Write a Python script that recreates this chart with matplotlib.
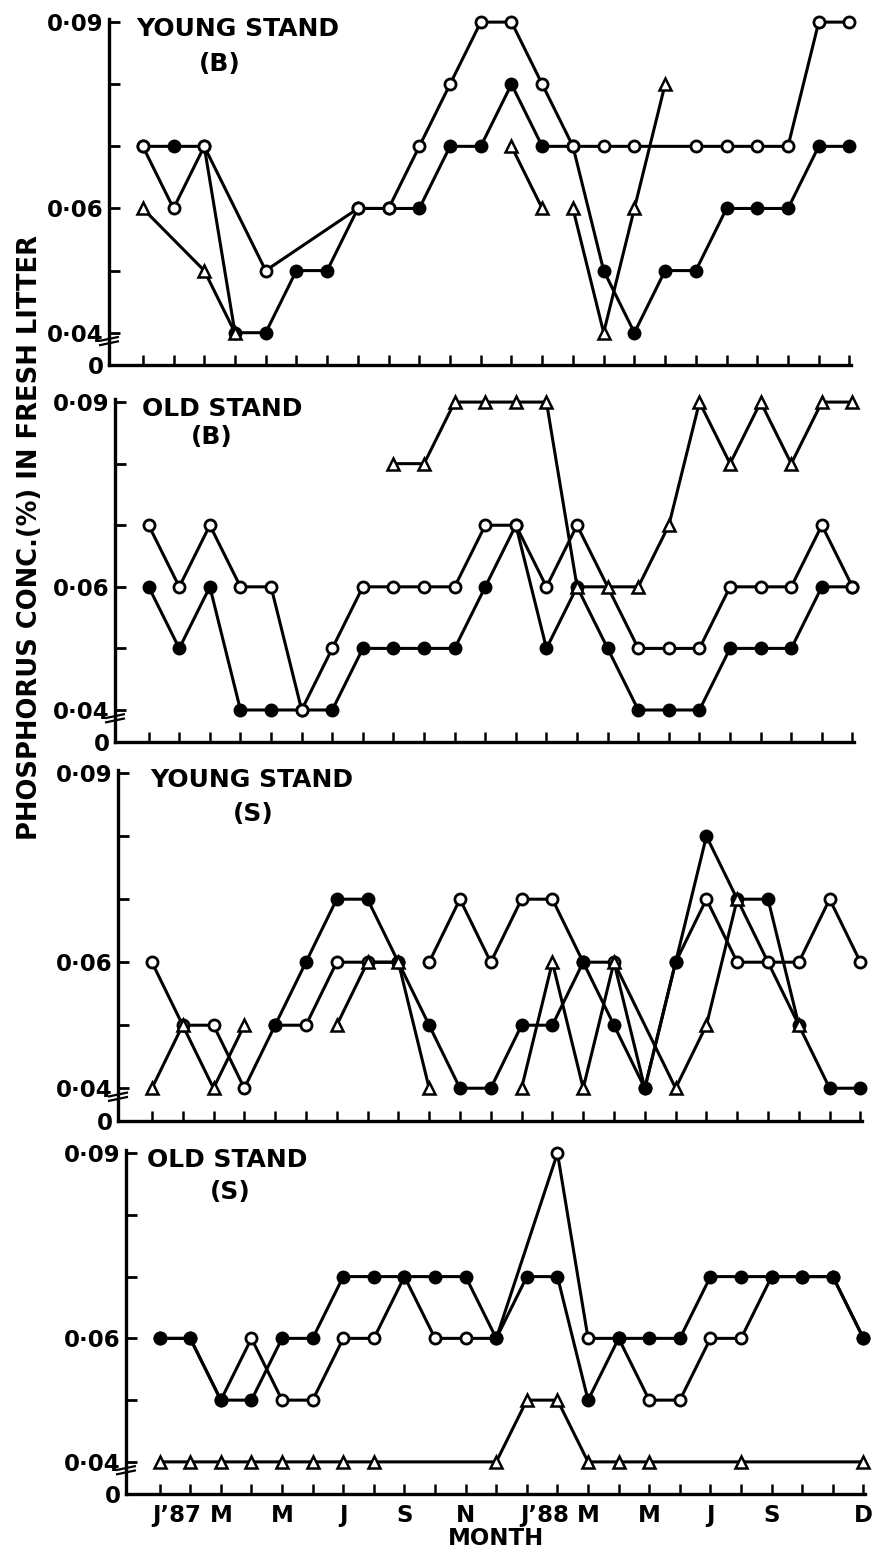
import numpy as np
import matplotlib.pyplot as plt
from matplotlib.transforms import ScaledTranslation

plt.rcParams['font.family'] = ['DejaVu Sans']
plt.rcParams['font.weight'] = 'bold'

_ = None
months = np.arange(24)
month_ticks = [0, 2, 4, 6, 8, 10, 12, 14, 16, 18, 20, 23]
month_names = ["J’87", "M", "M", "J", "S", "N", "J’88", "M", "M", "J", "S", "D"]

y_ticks = [0.04, 0.05, 0.06, 0.07, 0.08, 0.09]
y_labels = ["0·04", "", "0·06", "", "", "0·09"]

# young stand (B)
young_b_open = [.07, .06, .07, _, .05, _, _, .06, .06, .07, .08, .09, .09, .08, .07, .07, .07, _, .07, .07, .07, .07, .09, .09]
young_b_filled = [.07, .07, .07, .04, .04, .05, .05, .06, .06, .06, .07, .07, .08, .07, .07, .05, .04, .05, .05, .06, .06, .06, .07, .07]
young_b_tri = [.06, _, .05, .04, _, _, _, _, _, _, _, _, .07, .06, .06, .04, .06, .08, _, _, _, _, _, _]
young_b_tri_breaks = [3, 13]

# old stand (B)
old_b_open = [.07, .06, .07, .06, .06, .04, .05, .06, .06, .06, .06, .07, .07, .06, .07, _, .05, .05, .05, .06, .06, .06, .07, .06]
old_b_filled = [.06, .05, .06, .04, .04, .04, .04, .05, .05, .05, .05, .06, .07, .05, .06, .05, .04, .04, .04, .05, .05, .05, .06, .06]
old_b_tri = [_, _, _, _, _, _, _, _, .08, .08, .09, .09, .09, .09, .06, .06, .06, .07, .09, .08, .09, .08, .09, .09]

# young stand (S)
young_s_open = [.06, .05, .05, .04, .05, .05, .06, .06, .06, .06, .07, .06, .07, .07, .06, .06, .04, .06, .07, .06, .06, .06, .07, .06]
young_s_open_breaks = [8]
young_s_filled = [_, _, _, _, .05, .06, .07, .07, .06, .05, .04, .04, .05, .05, .06, .05, .04, .06, .08, .07, .07, .05, .04, .04]
young_s_tri = [.04, .05, .04, .05, _, _, .05, .06, .06, .04, _, _, .04, .06, .04, .06, _, .04, .05, .07, _, .05, _, _]
young_s_tri_breaks = [3, 9]

# old stand (S)
old_s_open = [.06, .06, .05, .06, .05, .05, .06, .06, .07, .06, .06, .06, _, .09, .06, .06, .05, .05, .06, .06, .07, .07, .07, .06]
old_s_filled = [.06, .06, .05, .05, .06, .06, .07, .07, .07, .07, .07, .06, .07, .07, .05, .06, .06, .06, .07, .07, .07, .07, .07, .06]
old_s_tri = [.04, .04, .04, .04, .04, .04, .04, .04, _, _, _, .04, .05, .05, .04, .04, .04, _, _, .04, _, _, _, .04]

panels = [
    ("YOUNG STAND", "(B)", [(young_b_filled, 'filled', []), (young_b_open, 'open', []), (young_b_tri, 'tri', young_b_tri_breaks)]),
    ("OLD STAND", "(B)", [(old_b_filled, 'filled', []), (old_b_open, 'open', []), (old_b_tri, 'tri', [])]),
    ("YOUNG STAND", "(S)", [(young_s_open, 'open', young_s_open_breaks), (young_s_filled, 'filled', []), (young_s_tri, 'tri', young_s_tri_breaks)]),
    ("OLD STAND", "(S)", [(old_s_open, 'open', []), (old_s_filled, 'filled', []), (old_s_tri, 'tri', [])]),
]

# pixel boxes (left, right, top, bottom) - the scan is a bit skewed
boxes = [(109, 851, 19, 365), (115, 854, 399, 742), (118, 862, 770, 1121), (126, 865, 1150, 1494)]
title_pos = [(-0.2, 2.5), (-0.23, 2.06), (-0.07, 3.3), (-0.42, 2.3)]
sub_top = [0.0852, 0.0863, 0.0854, 0.0856]

styles = {
    'open': dict(marker='o', mfc='white', ms=8, mew=2.0),
    'filled': dict(marker='o', mfc='black', ms=8, mew=2.0),
    'tri': dict(marker='^', mfc='white', ms=9, mew=1.8),
}


def pieces(vals, breaks):
    xs, ys = [], []
    for m, v in enumerate(vals):
        if v is not None:
            xs.append(m)
            ys.append(v)
        if m in breaks and xs:
            yield xs, ys
            xs, ys = [], []
    if xs:
        yield xs, ys


W, H = 876, 1557
fig = plt.figure(figsize=(W / 100, H / 100), dpi=100)

for k, ((title, sub, series), (l, r, t, b)) in enumerate(zip(panels, boxes)):
    ax = fig.add_axes([l / W, 1 - b / H, (r - l) / W, (b - t) / H])
    ax.set_xlim(-1.1, 23.05)
    ax.set_ylim(0.0348, 0.0905)
    for s in ['top', 'right']:
        ax.spines[s].set_visible(False)
    for s in ['left', 'bottom']:
        ax.spines[s].set_linewidth(2.4)

    for j, (vals, kind, brk) in enumerate(series):
        for xs, ys in pieces(vals, brk):
            ax.plot(xs, ys, '-', color='black', lw=2.2, zorder=2, clip_on=False)
            ax.plot(xs, ys, ls='none', mec='black', zorder=3 + j, clip_on=False, **styles[kind])

    ax.set_yticks([0.0348] + y_ticks, ['0'] + y_labels)
    ax.tick_params(axis='y', direction='in', length=8, width=2, labelsize=16.5, pad=4)
    ax.set_xticks(months)
    ax.tick_params(axis='x', direction='in', length=7, width=1.8, labelsize=16.5, pad=7)
    if k < 3:
        ax.set_xticklabels([''] * 24)
    else:
        labels = [''] * 24
        for m, name in zip(month_ticks, month_names):
            labels[m] = name
        ax.set_xticklabels(labels)
        shift = ScaledTranslation(-0.07, 0, fig.dpi_scale_trans)
        for lab in ax.get_xticklabels():
            if lab.get_text().startswith('J’'):
                lab.set_ha('left')
                lab.set_transform(lab.get_transform() + shift)
        ax.set_xlabel('MONTH', fontsize=16.5, fontweight='bold', labelpad=0)

    # axis break marks between 0 and 0.04
    tr = ax.get_yaxis_transform()
    for yb in (0.0383, 0.0390):
        ax.plot([-0.012, 0.012], [yb - 0.0003, yb + 0.0003], color='black', lw=1.6,
                transform=tr, clip_on=False)

    tx, sx = title_pos[k]
    ax.text(tx, 0.0908, title, fontsize=18, fontweight='bold', va='top', ha='left')
    ax.text(sx, sub_top[k], sub, fontsize=18, fontweight='bold', va='top', ha='center')

fig.text(0.034, 0.655, 'PHOSPHORUS CONC.(%) IN FRESH LITTER', rotation=90,
         fontsize=18.5, fontweight='bold', ha='center', va='center')

fig.savefig('out.png', dpi=100, facecolor='white')
